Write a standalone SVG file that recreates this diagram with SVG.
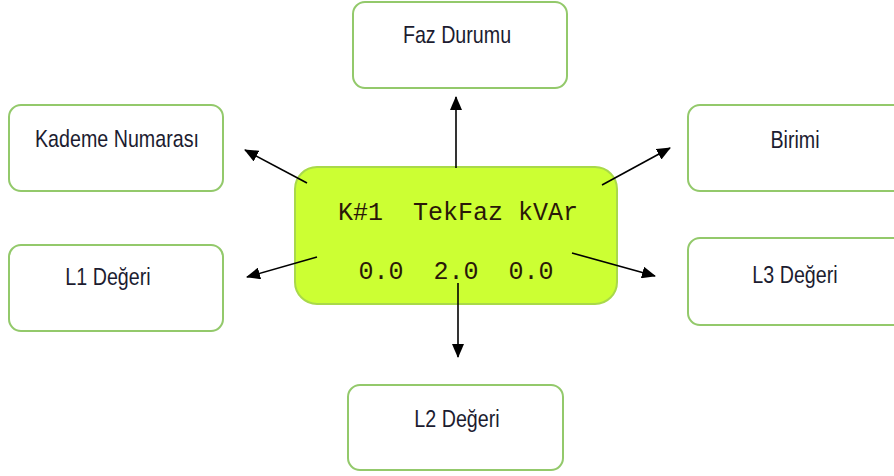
<svg xmlns="http://www.w3.org/2000/svg" width="894" height="476" viewBox="0 0 894 476">
<style>
.box{fill:#ffffff;stroke:#93c96b;stroke-width:2}
.lbl{font-family:"Liberation Sans",Arial,sans-serif;font-size:24px;fill:#1c1c30;text-anchor:middle}
.lcd{fill:#ccff33;stroke:#a9d94a;stroke-width:2}
.mono{font-family:"Liberation Mono","Courier New",monospace;font-size:25px;fill:#2a1808;text-anchor:middle;white-space:pre}
.con{stroke:#000;stroke-width:1.6;fill:none;marker-end:url(#ah)}
</style>
<defs>
<marker id="ah" markerUnits="userSpaceOnUse" markerWidth="14" markerHeight="12" refX="13" refY="6" orient="auto">
<path d="M0,0 L14,6 L0,12 Z" fill="#000"/>
</marker>
</defs>
<rect width="894" height="476" fill="#ffffff"/>
<g id="lcd">
<rect class="lcd" x="295" y="167" width="322" height="137" rx="22"/>
<text class="mono" x="458" y="220" xml:space="preserve">K#1  TekFaz kVAr</text>
<text class="mono" x="456" y="279" xml:space="preserve">0.0  2.0  0.0</text>
</g>
<g id="faz-durumu">
<rect class="box" x="353" y="2" width="214" height="86" rx="12"/>
<text class="lbl" transform="translate(457,43) scale(0.82,1)">Faz Durumu</text>
</g>
<g id="kademe-numarasi">
<rect class="box" x="9" y="105" width="214" height="86" rx="12"/>
<text class="lbl" transform="translate(117,147) scale(0.82,1)">Kademe Numarası</text>
</g>
<g id="birimi">
<rect class="box" x="688" y="105" width="220" height="86" rx="12"/>
<text class="lbl" transform="translate(795,148) scale(0.82,1)">Birimi</text>
</g>
<g id="l1-degeri">
<rect class="box" x="9" y="245" width="214" height="86" rx="12"/>
<text class="lbl" transform="translate(108,285) scale(0.82,1)">L1 Değeri</text>
</g>
<g id="l3-degeri">
<rect class="box" x="688" y="238" width="220" height="87" rx="12"/>
<text class="lbl" transform="translate(795,283) scale(0.82,1)">L3 Değeri</text>
</g>
<g id="l2-degeri">
<rect class="box" x="348" y="385" width="215" height="85" rx="12"/>
<text class="lbl" transform="translate(457,427) scale(0.82,1)">L2 Değeri</text>
</g>
<g id="connectors">
<line class="con" x1="456" y1="168" x2="456" y2="97"/>
<line class="con" x1="307" y1="183" x2="245" y2="150"/>
<line class="con" x1="602" y1="185" x2="670" y2="148"/>
<line class="con" x1="317" y1="257" x2="247" y2="277"/>
<line class="con" x1="572" y1="253" x2="655" y2="276"/>
<line class="con" x1="458" y1="283" x2="458" y2="357"/>
</g>
</svg>
